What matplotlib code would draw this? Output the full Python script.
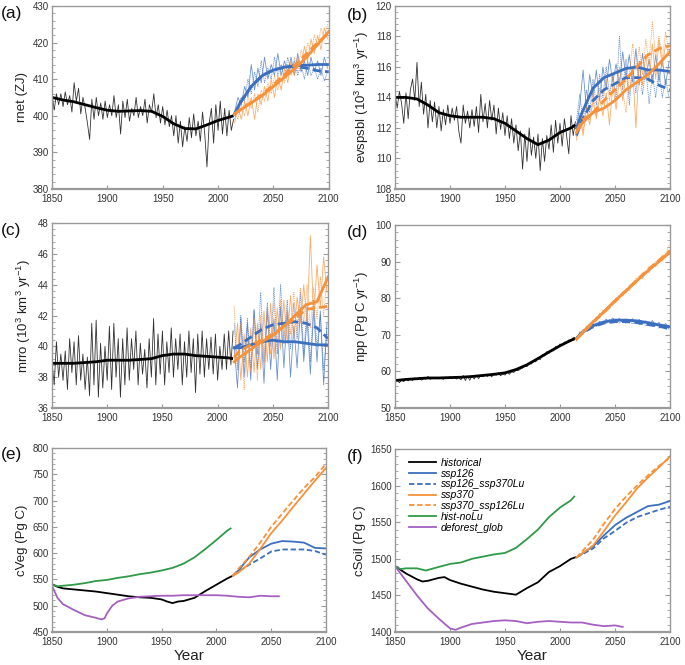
import matplotlib
matplotlib.use("Agg")
import matplotlib.pyplot as plt
import numpy as np
from matplotlib.ticker import MultipleLocator

plt.rcParams["font.family"] = ["Liberation Sans", "DejaVu Sans"]
plt.rcParams["mathtext.fontset"] = "custom"
plt.rcParams["mathtext.rm"] = "Liberation Sans"
plt.rcParams["mathtext.it"] = "Liberation Sans:italic"

# ---- years ----
HIST_YEARS = np.arange(1850, 2015, 2)          # annual series, read every 2nd year
SCEN_YEARS = np.arange(2015, 2100, 3)          # scenario series, read every 3rd year
HIST_KNOTS = [1850, 1860, 1870, 1880, 1890, 1900, 1910, 1920, 1930,
              1940, 1950, 1960, 1970, 1980, 1990, 2000, 2010, 2014]
SCEN_KNOTS = [2015, 2020, 2030, 2040, 2050, 2060, 2070, 2080, 2090, 2100]

# ---- (a) rnet ----
rnet_hist = [406, 401.5, 406, 403, 406,
             402.5, 406.5, 403, 405.5, 401,
             409, 404, 407.5, 400.5, 405,
             402, 398, 393.5, 404.5, 399,
             405, 400, 403.5, 399, 404,
             399.5, 403, 400, 405.5, 399.5,
             403, 395, 404, 399.5, 404.5,
             398.5, 402, 400, 405, 399.5,
             402.5, 400, 404.5, 398, 403,
             401, 406, 399.5, 403, 398,
             402.5, 397.5, 401.5, 397, 400,
             394.5, 400, 392.5, 398.5, 391.5,
             397, 393, 399.5, 394, 400.5,
             394.5, 398.5, 393, 401, 395,
             386, 398, 402, 392.5, 403,
             396, 404, 395, 402, 394.5,
             401.5, 396, 399]
rnet_hist_smooth = [405, 404.3, 403.8, 403, 402.2, 401.5, 401.2, 401.3, 401.4,
                    401.2, 399.8, 397.8, 396.5, 396.4, 397.5, 398.7, 399.6, 400]
rnet_126 = [401, 405, 403, 408, 405, 414, 407, 413, 409, 416, 410, 414, 411, 417, 411,
            415, 412, 416, 411, 417, 412, 415, 411, 416, 412, 415, 411, 416, 413]
rnet_126lu = [399, 403, 405, 404, 410, 406, 412, 408, 415, 409, 413, 410, 416, 411, 414,
              410, 416, 412, 415, 411, 414, 410, 415, 411, 413, 410, 413, 409.5, 412]
rnet_370 = [398, 402.5, 399, 404, 400, 405, 399, 406, 403, 408, 404, 410, 405, 411, 407,
            413, 409, 415, 411, 416, 413, 419, 415, 421, 417, 422, 418, 424, 421]
rnet_370lu = [401, 399, 403, 400, 405, 402, 406, 401, 407, 404, 409, 406, 411, 407, 412,
              409, 414, 411, 416, 412, 418, 415, 420, 417, 422, 419, 424, 421, 425]
rnet_126_smooth = [400.5, 403.5, 408, 411, 412.5, 413.3, 413.7, 413.8, 414, 414]
rnet_126lu_smooth = [400.5, 403.5, 408, 411, 412.5, 413.2, 413.5, 413, 412.3, 412]
rnet_370_smooth = [400.5, 401.5, 403.5, 405.5, 408, 410.5, 413, 416, 419.5, 423]
rnet_370lu_smooth = [400.5, 401.7, 403.7, 405.8, 408.5, 411.2, 414, 417, 420, 422.5]

# ---- (b) evspsbl ----
evsp_hist = [114.3, 113.3, 114.4, 113.6, 112.3,
             114.3, 112.6, 114.5, 115.2, 113.8,
             116.3, 113.4, 115, 112.9, 114.2,
             112, 113.8, 112.4, 113.7, 112,
             113.4, 111.8, 113.2, 112.2, 113.5,
             112.3, 113.3, 112.5, 113.4, 111.8,
             111, 113.5, 112.3, 113.1, 112,
             113.2, 112.1, 113.4, 111.7, 114.2,
             112.4, 113.6, 112, 113.8, 112.5,
             113.5, 111.6, 113.3, 111.9, 113,
             111.5, 112.8, 111.3, 112.6, 111,
             112.2, 110.5, 111.8, 109.3, 111.6,
             109.8, 112, 110.2, 111.4, 110,
             111.6, 109.2, 111.3, 109.8, 111.5,
             110.6, 112.2, 110.4, 112.5, 111,
             112.3, 110.8, 112.6, 111.5, 110.3,
             112.8, 111.5, 112.4]
evsp_hist_smooth = [114, 114, 113.9, 113.5, 113, 112.8, 112.7, 112.7, 112.7,
                    112.6, 112.3, 111.8, 111.3, 110.9, 111.2, 111.7, 112, 112.2]
evsp_126 = [112, 113.5, 115.8, 113.2, 115.5, 114, 115.8, 113.8, 116, 114.6, 116.5, 115, 116.2,
            114.8, 117, 115.3, 116.8, 115, 117.2, 114.8, 116.9, 115.2, 116.5, 114.9, 116.8,
            115, 116.5, 114.8, 116.3]
evsp_126lu = [112.5, 114.2, 112.3, 114.5, 113, 115.2, 113.5, 115.5, 114, 116, 114.2, 115.5,
              113.8, 118, 114.5, 116.5, 113.5, 116, 114.3, 116.4, 114.2, 115.9, 113.6, 115.5,
              114, 115.8, 114, 115.2, 114]
evsp_370 = [111.2, 112.8, 111.5, 113.3, 112.2, 113.8, 112.6, 114, 112.8, 114.3, 112.2, 114.8,
            113.2, 115.3, 113.8, 115.5, 114.2, 116, 112, 116.2, 114.8, 116.8, 115, 117.5,
            115.2, 117.8, 116, 117.5, 116.8]
evsp_370lu = [111.4, 113, 111.8, 113.5, 112.5, 114.3, 112.8, 114.6, 113.5, 115.2, 113.8, 115.4,
              114.2, 116, 114.5, 113, 115.5, 117.5, 115.8, 117.3, 115.5, 117.8, 116.2, 119,
              116.5, 118, 116.5, 118.3, 117]
evsp_126_smooth = [112, 113, 114.6, 115.3, 115.6, 115.9, 116, 115.8, 115.8, 115.7]
evsp_126lu_smooth = [111.5, 112.5, 113.8, 114.5, 114.9, 115.3, 115.3, 115.2, 114.8, 114.5]
evsp_370_smooth = [111.7, 112.3, 113, 113.3, 113.8, 114.5, 115, 115.5, 116.2, 117]
evsp_370lu_smooth = [111.8, 112.5, 113, 113.8, 114.5, 115.2, 116, 116.8, 117.2, 117.4]

# ---- (c) mrro ----
mrro_hist = [39, 37.5, 40.3, 38, 39.5,
             37.8, 39.7, 37.2, 40.5, 38.3,
             40.3, 37.5, 40.7, 37.8, 39.5,
             37.2, 39.3, 36.8, 41.5, 37.5,
             41.7, 36.7, 40.2, 37.3, 40,
             37.8, 41.3, 37.2, 41.5, 38,
             40.5, 36.7, 40.5, 37.5, 41.2,
             37.8, 40.5, 38.5, 41, 37.5,
             40.2, 38.2, 39.8, 37.3, 40.5,
             38, 41.8, 37.5, 40.8, 38.2,
             41, 37.5, 40.3, 38.3, 41.2,
             38, 40.5, 38.5, 40.8, 37.5,
             40.3, 38, 41, 38.3, 40.5,
             37, 40.8, 38.2, 41, 38,
             40.5, 38.5, 40.6, 38.2, 40.8,
             37.8, 40, 38.5, 40.8, 38.5,
             41, 38.8, 41]
mrro_hist_smooth = [38.9, 38.9, 38.9, 38.95, 39.0, 39.1, 39.1, 39.1, 39.15,
                    39.2, 39.4, 39.5, 39.5, 39.4, 39.35, 39.3, 39.25, 39.2]
mrro_126 = [40, 37.3, 41.8, 38, 41.5, 37.8, 42.4, 38.5, 41.5, 37.6, 42.5, 38.5, 41.8, 37.8,
            42.6, 38.6, 42.3, 38, 41.3, 38.6, 42.5, 39, 41.8, 38.2, 42.4, 39, 42.3, 37.5, 41.5]
mrro_126lu = [41.5, 38.5, 42, 39, 41.8, 38.6, 42.3, 39.5, 43.5, 39, 42.8, 40, 43.8, 39.5, 44,
              40.2, 43, 39.8, 42.8, 40.5, 43.5, 39.5, 42.6, 39, 43, 40, 42, 38.5, 41]
mrro_370 = [39, 41.5, 37.8, 40.8, 38, 41.2, 38.3, 41.5, 38.5, 42.3, 39, 42.8, 39.2, 42.5, 39.8,
            43, 40.2, 43.3, 40.5, 43.2, 41.5, 44, 41.5, 47.2, 41.8, 45.3, 42.5, 45.8, 43.5]
mrro_370lu = [42.6, 38.5, 41.5, 37.2, 40.5, 38.4, 41.8, 37.8, 42, 38.8, 42.5, 39.5, 42.8, 40,
              43, 40.5, 42.5, 40.8, 43.5, 41, 43.8, 41.5, 44, 41.2, 43.8, 41.8, 44.5, 42, 44.5]
mrro_126_smooth = [39.9, 39.9, 40.1, 40.3, 40.4, 40.3, 40.3, 40.2, 40.1, 40.1]
mrro_126lu_smooth = [39.9, 40.1, 40.6, 41.1, 41.4, 41.5, 41.6, 41.5, 41.2, 40.5]
mrro_370_smooth = [39, 39.3, 39.8, 40.3, 40.7, 41.3, 42, 42.7, 42.9, 44.5]
mrro_370lu_smooth = [39.3, 39.7, 40.1, 40.4, 40.8, 41.3, 41.8, 42.4, 42.5, 42.6]

# ---- (d) npp ----
npp_hist = [57.3, 57.8, 56.9, 57.6, 57.2,
            58, 57.4, 58.1, 57.5, 58.2,
            57.7, 58.3, 57.6, 58.1, 57.9,
            58.6, 57.8, 58.3, 58, 58.4,
            58, 58.3, 57.8, 58.4, 58,
            58.5, 58.1, 58.4, 57.9, 58.3,
            57.7, 58.9, 57.5, 58.7, 57.6,
            58.8, 57.9, 59, 58, 59,
            58.5, 59.2, 58.6, 59.1, 58.5,
            59.5, 58.9, 59.6, 58.8, 59.3,
            59, 59.8, 59.2, 59.9, 59.7,
            60.3, 60.2, 60.6, 60.9, 61.5,
            61.3, 62.3, 62, 62.9, 62.6,
            63.8, 63.2, 64.6, 64.2, 65.4,
            64.9, 65.8, 65.6, 66.8, 66.4,
            67.5, 67.1, 68, 67.9, 68.6,
            68.3, 69.2, 69]
npp_hist_smooth = [57.5, 57.8, 58, 58.2, 58.2, 58.3, 58.4, 58.6, 58.9,
                   59.2, 59.6, 60.5, 61.8, 63.5, 65.3, 67, 68.5, 69]
npp_126 = [68.6, 70.8, 70.2, 72, 71.4, 73, 72.3, 73.7, 73, 74.3, 73.5, 74.6, 73.6, 74.5, 73.4,
           74.3, 73.5, 74.4, 73.2, 74.2, 73.1, 73.8, 72.6, 73.9, 72.4, 73.4, 72, 73.1, 71.6]
npp_126lu = [69.3, 70, 71.5, 71, 72.6, 71.8, 73.2, 72.6, 73.8, 73, 74.2, 73.1, 74.3, 73.2, 74,
             73.1, 73.9, 72.9, 74, 72.8, 73.6, 72.4, 73.5, 72.3, 73.2, 71.8, 73, 71.4, 72.3]
npp_370 = [68.3, 70.3, 70.6, 72.4, 72.2, 74, 73.8, 75.9, 75.5, 77.3, 77, 79.2, 78.8, 80.8, 80.6,
           82.6, 82.1, 84.2, 83.9, 85.8, 85.3, 87.4, 87, 89.2, 88.6, 90.7, 90.2, 92.3, 92]
npp_370lu = [69, 69.6, 71.5, 71.2, 73.3, 73, 75, 74.6, 76.8, 76.2, 78.4, 78, 80.2, 79.7, 81.8,
             81.5, 83.6, 83.2, 85.4, 85, 87, 86.6, 88.7, 88.3, 90.2, 89.8, 91.8, 91.5, 94.5]
npp_126_smooth = [69, 70.6, 72.5, 73.5, 74, 74, 73.8, 73.3, 72.7, 72.2]
npp_126lu_smooth = [69, 70.4, 72.2, 73.2, 73.6, 73.6, 73.3, 72.8, 72.3, 71.7]
npp_370_smooth = [68.8, 70.5, 73.5, 76.3, 79.3, 82, 84.8, 87.5, 90, 92.5]
npp_370lu_smooth = [68.8, 70.3, 73.3, 76.2, 79.2, 82, 85, 87.8, 90.3, 93]

# ---- (e) cVeg ----
cveg_hist_years = [1850, 1855, 1860, 1870, 1880, 1890, 1900, 1910, 1920, 1930, 1940,
                   1950, 1955, 1960, 1965, 1970, 1980, 1990, 2000, 2010, 2014]
cveg_hist = [541, 536, 533, 531, 529, 527, 524, 521, 518, 516, 515,
             512, 508, 505, 508, 509, 515, 528, 540, 552, 556]
cveg_nolu_years = [1850, 1855, 1860, 1870, 1880, 1890, 1900, 1910, 1920, 1930,
                   1940, 1950, 1960, 1970, 1980, 1990, 2000, 2010, 2013]
cveg_nolu = [540, 537, 538, 540, 543, 547, 549, 553, 556, 560,
             563, 567, 572, 580, 592, 608, 625, 643, 647]
cveg_defor_years = [1850, 1855, 1860, 1870, 1880, 1890, 1895, 1898, 1900, 1905, 1910,
                    1920, 1930, 1940, 1950, 1960, 1970, 1980, 1990, 2000, 2010, 2020,
                    2030, 2040, 2050, 2057]
cveg_defor = [538, 515, 503, 492, 482, 477, 474, 476, 485, 500, 508,
              514, 517, 518, 519, 519, 520, 520, 520, 520, 519, 517,
              516, 519, 518, 518]
cveg_126 = [557, 567, 592, 607, 618, 623, 622, 620, 610, 609]
cveg_126lu = [557, 565, 578, 590, 603, 607, 607, 607, 604, 597]
cveg_370 = [557, 563, 580, 608, 638, 662, 688, 713, 738, 762]
cveg_370lu = [557, 570, 593, 620, 650, 675, 700, 724, 745, 770]

# ---- (f) cSoil ----
csoil_hist_years = [1850, 1860, 1870, 1875, 1880, 1890, 1895, 1900, 1910, 1920, 1930,
                    1940, 1950, 1960, 1970, 1980, 1990, 2000, 2010, 2014]
csoil_hist = [1490, 1480, 1472, 1469, 1470, 1474, 1475, 1471, 1466, 1462, 1458,
              1455, 1453, 1451, 1460, 1468, 1482, 1490, 1500, 1502]
csoil_nolu_years = [1850, 1855, 1860, 1870, 1878, 1890, 1900, 1910, 1920, 1930,
                    1940, 1950, 1960, 1970, 1980, 1990, 2000, 2010, 2013]
csoil_nolu = [1490, 1486, 1487, 1487, 1484, 1489, 1493, 1495, 1500, 1503,
              1506, 1508, 1515, 1527, 1540, 1557, 1570, 1580, 1585]
csoil_defor_years = [1850, 1860, 1870, 1880, 1890, 1900, 1905, 1910, 1920, 1930, 1940,
                     1950, 1960, 1970, 1980, 1990, 2000, 2010, 2020, 2030, 2040, 2050, 2057]
csoil_defor = [1490, 1470, 1450, 1432, 1418, 1405, 1403, 1406, 1411, 1413, 1415,
               1416, 1415, 1412, 1414, 1415, 1414, 1413, 1413, 1410, 1408, 1409, 1407]
csoil_126 = [1502, 1507, 1517, 1532, 1546, 1556, 1564, 1572, 1574, 1579]
csoil_126lu = [1502, 1506, 1514, 1528, 1538, 1549, 1557, 1562, 1567, 1571]
csoil_370 = [1502, 1507, 1518, 1538, 1559, 1577, 1596, 1611, 1625, 1640]
csoil_370lu = [1502, 1510, 1526, 1548, 1568, 1585, 1600, 1614, 1627, 1638]

BLUE = "#3b6fc0"
ORANGE = "#f7913a"
GREEN = "#2f9a48"
PURPLE = "#a560c0"
AX_GREY = "#9a9a9a"


def style_axis(ax, ylim, ymajor, yminor, ylabel, xlabel=None):
    ax.set_xlim(1850, 2100)
    ax.set_ylim(*ylim)
    ax.xaxis.set_major_locator(MultipleLocator(50))
    ax.yaxis.set_major_locator(MultipleLocator(ymajor))
    ax.yaxis.set_minor_locator(MultipleLocator(yminor))
    ax.tick_params(axis="both", which="both", direction="in", colors=AX_GREY,
                   labelcolor="#333333", labelsize=7, right=True, top=False)
    ax.tick_params(axis="y", which="major", length=3.5, pad=2.5)
    ax.tick_params(axis="y", which="minor", length=2)
    ax.tick_params(axis="x", which="major", length=3, pad=3.5)
    for side in ax.spines.values():
        side.set_color(AX_GREY)
        side.set_linewidth(1.0)
    ax.spines["bottom"].set_linewidth(1.6)
    ax.set_ylabel(ylabel, fontsize=9.5, color="#222222", labelpad=3)
    if xlabel:
        ax.set_xlabel(xlabel, fontsize=11, color="#222222", labelpad=1.5)


def draw_climate(ax, hist, hist_smooth, noisy, smooth):
    ax.plot(HIST_YEARS, hist, color="#333333", lw=0.6)
    styles = [(BLUE, "-"), (BLUE, (0, (3, 1.5))), (ORANGE, "-"), (ORANGE, (0, (3, 1.5)))]
    for series, (col, ls) in zip(noisy, styles):
        thin_ls = "-" if ls == "-" else (0, (1.5, 1))
        ax.plot(SCEN_YEARS, series, color=col, lw=0.6, ls=thin_ls, alpha=0.75)
    ax.plot(HIST_KNOTS, hist_smooth, color="black", lw=2.0, solid_capstyle="butt")
    for series, (col, ls) in zip(smooth, styles):
        ax.plot(SCEN_KNOTS, series, color=col, lw=2.0, ls=ls)


fig = plt.figure(figsize=(6.85, 6.65), dpi=100)
ax_a = fig.add_axes([0.0759, 0.716, 0.404, 0.275])
ax_b = fig.add_axes([0.5766, 0.716, 0.4015, 0.275])
ax_c = fig.add_axes([0.0759, 0.3865, 0.403, 0.278])
ax_d = fig.add_axes([0.5766, 0.3865, 0.4015, 0.2752])
ax_e = fig.add_axes([0.0759, 0.0496, 0.400, 0.2767])
ax_f = fig.add_axes([0.5766, 0.0496, 0.4015, 0.2752])

draw_climate(ax_a, rnet_hist, rnet_hist_smooth,
             [rnet_126, rnet_126lu, rnet_370, rnet_370lu],
             [rnet_126_smooth, rnet_126lu_smooth, rnet_370_smooth, rnet_370lu_smooth])
style_axis(ax_a, (380, 430), 10, 2, "rnet (ZJ)")

draw_climate(ax_b, evsp_hist, evsp_hist_smooth,
             [evsp_126, evsp_126lu, evsp_370, evsp_370lu],
             [evsp_126_smooth, evsp_126lu_smooth, evsp_370_smooth, evsp_370lu_smooth])
style_axis(ax_b, (108, 120), 2, 0.4, r"evspsbl (10$^{3}$ km$^{3}$ yr$^{-1}$)")

draw_climate(ax_c, mrro_hist, mrro_hist_smooth,
             [mrro_126, mrro_126lu, mrro_370, mrro_370lu],
             [mrro_126_smooth, mrro_126lu_smooth, mrro_370_smooth, mrro_370lu_smooth])
style_axis(ax_c, (36, 48), 2, 0.4, r"mrro (10$^{3}$ km$^{3}$ yr$^{-1}$)")

draw_climate(ax_d, npp_hist, npp_hist_smooth,
             [npp_126, npp_126lu, npp_370, npp_370lu],
             [npp_126_smooth, npp_126lu_smooth, npp_370_smooth, npp_370lu_smooth])
style_axis(ax_d, (50, 100), 10, 2, r"npp (Pg C yr$^{-1}$)")

dash = (0, (3, 1.5))
for ax, hist_y, hist_v, nolu_y, nolu_v, def_y, def_v, s126, s126lu, s370, s370lu in [
    (ax_e, cveg_hist_years, cveg_hist, cveg_nolu_years, cveg_nolu, cveg_defor_years,
     cveg_defor, cveg_126, cveg_126lu, cveg_370, cveg_370lu),
    (ax_f, csoil_hist_years, csoil_hist, csoil_nolu_years, csoil_nolu, csoil_defor_years,
     csoil_defor, csoil_126, csoil_126lu, csoil_370, csoil_370lu),
]:
    ax.plot(hist_y, hist_v, color="black", lw=1.3, label="historical")
    ax.plot(SCEN_KNOTS, s126, color=BLUE, lw=1.3, label="ssp126")
    ax.plot(SCEN_KNOTS, s126lu, color=BLUE, lw=1.3, ls=dash, label="ssp126_ssp370Lu")
    ax.plot(SCEN_KNOTS, s370, color=ORANGE, lw=1.3, label="ssp370")
    ax.plot(SCEN_KNOTS, s370lu, color=ORANGE, lw=1.3, ls=dash, label="ssp370_ssp126Lu")
    ax.plot(nolu_y, nolu_v, color=GREEN, lw=1.3, label="hist-noLu")
    ax.plot(def_y, def_v, color=PURPLE, lw=1.3, label="deforest_glob")

style_axis(ax_e, (450, 800), 50, 10, "cVeg (Pg C)", "Year")
style_axis(ax_f, (1400, 1650), 50, 10, "cSoil (Pg C)", "Year")

leg = ax_f.legend(loc="upper left", bbox_to_anchor=(0.035, 0.975), frameon=False,
                  fontsize=7.5, handlelength=2.6, handletextpad=0.5, labelspacing=0.08,
                  borderaxespad=0.2, borderpad=0.2)
for txt in leg.get_texts():
    txt.set_fontstyle("italic")

for label, x, y in [("(a)", 0.002, 0.979), ("(b)", 0.506, 0.977), ("(c)", 0.002, 0.654),
                    ("(d)", 0.506, 0.651), ("(e)", 0.002, 0.316), ("(f)", 0.506, 0.314)]:
    fig.text(x, y, label, fontsize=12.5, va="center", ha="left", color="#111111")

fig.savefig("out.png", dpi=100)
